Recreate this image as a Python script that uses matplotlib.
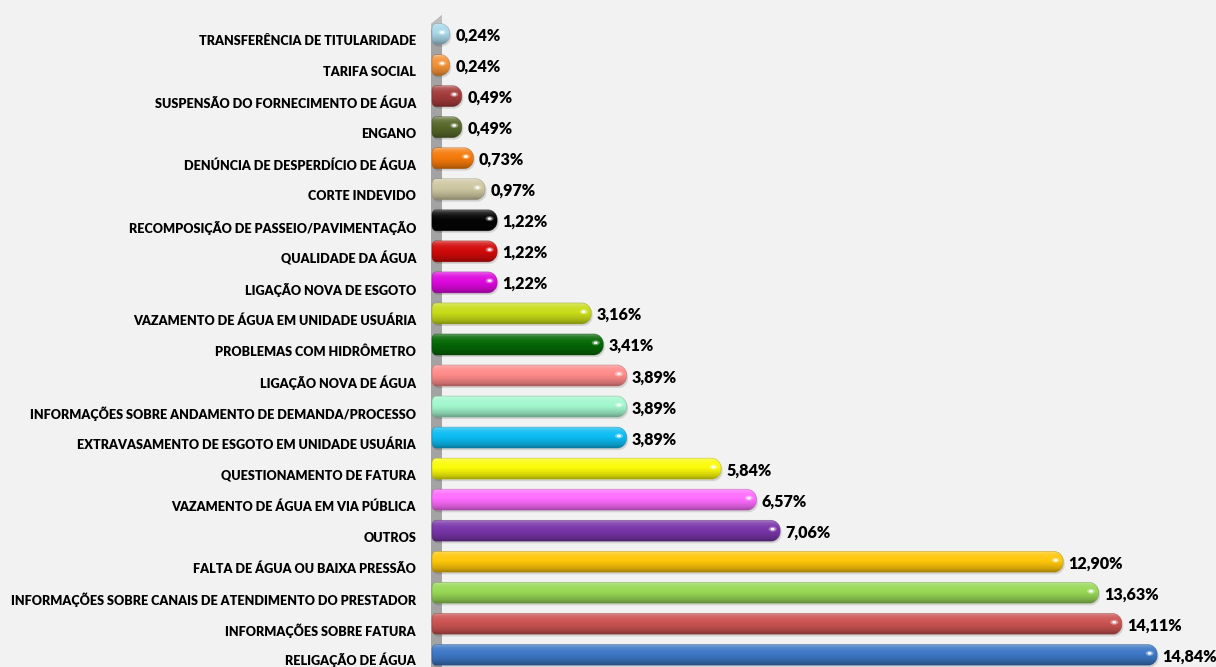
import matplotlib
matplotlib.use("Agg")
import matplotlib.pyplot as plt
import numpy as np
from matplotlib.path import Path
from matplotlib.patches import PathPatch, Ellipse, Polygon
from matplotlib.colors import to_rgb
from matplotlib.transforms import ScaledTranslation

categories = [
    "TRANSFERÊNCIA DE TITULARIDADE",
    "TARIFA SOCIAL",
    "SUSPENSÃO DO FORNECIMENTO DE ÁGUA",
    "ENGANO",
    "DENÚNCIA DE DESPERDÍCIO DE ÁGUA",
    "CORTE INDEVIDO",
    "RECOMPOSIÇÃO DE PASSEIO/PAVIMENTAÇÃO",
    "QUALIDADE DA ÁGUA",
    "LIGAÇÃO NOVA DE ESGOTO",
    "VAZAMENTO DE ÁGUA EM UNIDADE USUÁRIA",
    "PROBLEMAS COM HIDRÔMETRO",
    "LIGAÇÃO NOVA DE ÁGUA",
    "INFORMAÇÕES SOBRE ANDAMENTO DE DEMANDA/PROCESSO",
    "EXTRAVASAMENTO DE ESGOTO EM UNIDADE USUÁRIA",
    "QUESTIONAMENTO DE FATURA",
    "VAZAMENTO DE ÁGUA EM VIA PÚBLICA",
    "OUTROS",
    "FALTA DE ÁGUA OU BAIXA PRESSÃO",
    "INFORMAÇÕES SOBRE CANAIS DE ATENDIMENTO DO PRESTADOR",
    "INFORMAÇÕES SOBRE FATURA",
    "RELIGAÇÃO DE ÁGUA",
]
values = [0.24, 0.24, 0.49, 0.49, 0.73, 0.97, 1.22, 1.22, 1.22, 3.16, 3.41,
          3.89, 3.89, 3.89, 5.84, 6.57, 7.06, 12.90, 13.63, 14.11, 14.84]
colors = ["#a9d9ea", "#f39236", "#a33a3a", "#56682a", "#f57a0a", "#cdc6a0",
          "#050505", "#d20a0a", "#dd08dd", "#c8dc18", "#056805", "#ff8a8a",
          "#a2f7cd", "#0cbcf2", "#fbfb0a", "#ff6cff", "#7a36aa", "#ffc70a",
          "#98d856", "#cc5452", "#3d78c6"]

W, H = 1216, 667
DPI = 100
BG = "#f2f2f2"

fig = plt.figure(figsize=(W / DPI, H / DPI), dpi=DPI, facecolor=BG)

# pixel geometry
px_per_x = 48.46
x0_px = 438.0
ax_left_px = 431.0
ax_top_px = 15.0
row_px = 31.05
first_center_px = 34.0

ax = fig.add_axes([ax_left_px / W, 0, (W - ax_left_px) / W, (H - ax_top_px) / H])
ax.set_facecolor(BG)
for s in ax.spines.values():
    s.set_visible(False)

pos = np.arange(len(categories))

# gray wall
wall_l = -(x0_px - ax_left_px) / px_per_x
wall_r = wall_l + 11 / px_per_x
ytop_l = -(first_center_px - 24) / row_px
ytop_r = -(first_center_px - 15) / row_px
ybot = (H - first_center_px) / row_px
ax.add_patch(Polygon([(wall_l, ybot), (wall_l, ytop_l), (wall_r, ytop_r), (wall_r, ybot)],
                     closed=True, facecolor="#a3a3a3", edgecolor="none", zorder=1))
ax.add_patch(Polygon([(wall_l, ytop_l), (wall_r, ytop_r), (wall_r, ytop_r + 8 / row_px),
                      (wall_l, ytop_l + 6 / row_px)],
                     closed=True, facecolor="#bfbfbf", edgecolor="none", zorder=1))

bar_h = 21 / row_px
left_ext = 6 / px_per_x
bars = ax.barh(pos, values, height=bar_h, left=0, color=colors)

k = 0.5523


def rounded_path(xa, xb, ya, yb, rxl, ryl, rxr, ryr):
    verts = [
        (xa + rxl, ya),
        (xb - rxr, ya),
        (xb - rxr + k * rxr, ya), (xb, ya + ryr - k * ryr), (xb, ya + ryr),
        (xb, yb - ryr),
        (xb, yb - ryr + k * ryr), (xb - rxr + k * rxr, yb), (xb - rxr, yb),
        (xa + rxl, yb),
        (xa + rxl - k * rxl, yb), (xa, yb - ryl + k * ryl), (xa, yb - ryl),
        (xa, ya + ryl),
        (xa, ya + ryl - k * ryl), (xa + rxl - k * rxl, ya), (xa + rxl, ya),
        (xa + rxl, ya),
    ]
    codes = [Path.MOVETO, Path.LINETO, Path.CURVE4, Path.CURVE4, Path.CURVE4,
             Path.LINETO, Path.CURVE4, Path.CURVE4, Path.CURVE4,
             Path.LINETO, Path.CURVE4, Path.CURVE4, Path.CURVE4,
             Path.LINETO, Path.CURVE4, Path.CURVE4, Path.CURVE4, Path.CLOSEPOLY]
    return Path(verts, codes)


prof_t = [0.0, 0.10, 0.25, 0.45, 0.65, 0.85, 1.0]
prof_v = [0.40, 0.18, 0.06, 0.0, -0.08, -0.20, -0.35]
N = 60
tt = np.linspace(0, 1, N)
lf = np.interp(tt, prof_t, prof_v)

for rect, c in zip(bars, colors):
    rect.set_visible(False)
    x = rect.get_x()
    w = rect.get_width()
    y = rect.get_y()
    h = rect.get_height()
    xa = x - left_ext
    xb = x + w
    ya, yb = y, y + h   # ya is visually top (inverted axis)
    path = rounded_path(xa, xb, ya, yb,
                        4 / px_per_x, 5 / row_px, 9.5 / px_per_x, 9.5 / row_px)
    base = np.array(to_rgb(c))
    img = np.zeros((N, 1, 3))
    for j, f in enumerate(lf):
        if f >= 0:
            img[j, 0] = base + (1 - base) * f
        else:
            img[j, 0] = base * (1 + f)
    sh = PathPatch(rounded_path(xa + 1.5 / px_per_x, xb + 1.5 / px_per_x,
                                ya + 2 / row_px, yb + 2 / row_px,
                                4 / px_per_x, 5 / row_px, 9.5 / px_per_x, 9.5 / row_px),
                   facecolor="#000000", alpha=0.12, edgecolor="none", zorder=2)
    ax.add_patch(sh)
    patch = PathPatch(path, facecolor="none", edgecolor=tuple(base * 0.7), lw=0.5,
                      alpha=0.6, zorder=4)
    ax.add_patch(patch)
    im = ax.imshow(img, extent=(xa, xb, yb, ya), origin="upper", aspect="auto",
                   interpolation="bilinear", zorder=3)
    im.set_clip_path(patch)
    hx = xb - 7.5 / px_per_x
    hy = y + h * 0.42
    ax.add_patch(Ellipse((hx, hy), 8 / px_per_x, 5 / row_px, facecolor="white",
                         alpha=0.35, edgecolor="none", zorder=5))
    ax.add_patch(Ellipse((hx, hy), 4 / px_per_x, 2.6 / row_px, facecolor="white",
                         alpha=0.95, edgecolor="none", zorder=6))

ax.set_xlim(-(x0_px - ax_left_px) / px_per_x, (W - x0_px) / px_per_x)
ax.set_ylim((H - first_center_px) / row_px, -(first_center_px - ax_top_px) / row_px)

ax.set_xticks([])
ax.set_yticks(pos)
ax.set_yticklabels(categories, fontfamily="Lato", fontweight="heavy", fontsize=9.1,
                   color="#000000")
ax.tick_params(axis="y", length=0, pad=10.8)
labels = ax.get_yticklabels()
for n, lab in enumerate(labels):
    dy = -0.062 if n < len(labels) - 1 else -0.035
    lab.set_transform(lab.get_transform() + ScaledTranslation(0, dy, fig.dpi_scale_trans))

for p, v in zip(pos, values):
    ax.annotate(f"{v:.2f}".replace(".", ",") + "%", xy=(v, p), xytext=(4.0, -1.2),
                textcoords="offset points", ha="left", va="center",
                fontfamily="Lato", fontweight="heavy", fontsize=11.6, color="#000000",
                zorder=7)

fig.savefig("out.png", dpi=DPI, facecolor=BG)
